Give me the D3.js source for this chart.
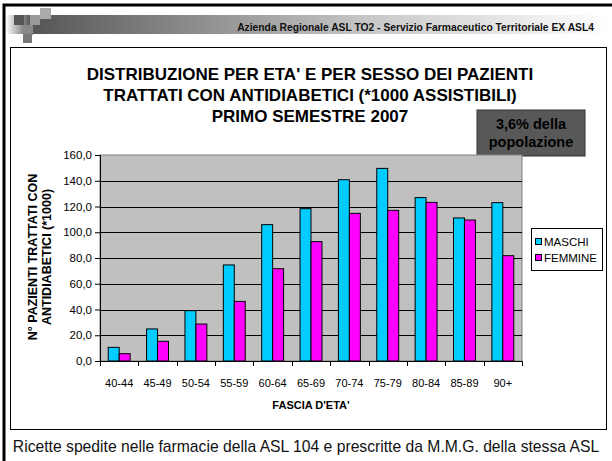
<!DOCTYPE html>
<html>
<head>
<meta charset="utf-8">
<script src="https://cdn.jsdelivr.net/npm/d3@7"></script>
<style>
  body { margin: 0; background: #fff; }
  svg { display: block; font-family: Arial, "Liberation Sans", sans-serif; }
</style>
</head>
<body>
<div id="chart"></div>
<script>
// data
var ageGroups = ["40-44", "45-49", "50-54", "55-59", "60-64", "65-69", "70-74", "75-79", "80-84", "85-89", "90+"];
var maschi = [10.6, 24.9, 39.1, 74.6, 105.9, 118.3, 140.8, 149.6, 126.9, 111.1, 123.0];
var femmine = [5.7, 15.3, 28.7, 46.3, 71.7, 92.7, 114.7, 117.0, 123.2, 109.5, 81.8];
var seriesNames = ["MASCHI", "FEMMINE"];
var seriesColors = ["#00ccff", "#ff00ff"];
var yTicks = [0, 20, 40, 60, 80, 100, 120, 140, 160];

var W = 612, H = 461;
var svg = d3.select("#chart").append("svg")
    .attr("width", W)
    .attr("height", H);

//slide frame
svg.append("rect")
    .attr("x", 4).attr("y", 5)
    .attr("width", 620).attr("height", 470)
    .attr("fill", "none")
    .attr("stroke", "#000")
    .attr("stroke-width", 3);

//header gradient bar
var defs = svg.append("defs");
var grad = defs.append("linearGradient").attr("id", "hdr");
grad.append("stop").attr("offset", "0%").attr("stop-color", "#ffffff");
grad.append("stop").attr("offset", "4%").attr("stop-color", "#555555");
grad.append("stop").attr("offset", "60%").attr("stop-color", "#c8c8c8");
grad.append("stop").attr("offset", "100%").attr("stop-color", "#ffffff");
svg.append("rect")
    .attr("x", 6).attr("y", 15)
    .attr("width", 606).attr("height", 19)
    .attr("fill", "url(#hdr)");

//little squares at the top left
var squares = [[14, 15, 10, "#555"], [30, 15, 10, "#999"], [40, 8, 11, "#aaa"], [23, 25, 10, "#888"], [23, 34, 9, "#777"]];
svg.selectAll(".sq")
    .data(squares)
    .enter()
    .append("rect")
    .attr("x", function(d) { return d[0]; })
    .attr("y", function(d) { return d[1]; })
    .attr("width", function(d) { return d[2]; })
    .attr("height", function(d) { return d[2]; })
    .attr("fill", function(d) { return d[3]; });

svg.append("text")
    .attr("x", 594).attr("y", 31)
    .attr("text-anchor", "end")
    .attr("font-size", 10.3)
    .attr("font-weight", "bold")
    .attr("fill", "#111")
    .text("Azienda Regionale ASL TO2 - Servizio Farmaceutico Territoriale EX ASL4");

//chart box
svg.append("rect")
    .attr("x", 10.5).attr("y", 47.5)
    .attr("width", 596).attr("height", 382)
    .attr("fill", "#fff")
    .attr("stroke", "#000")
    .attr("stroke-width", 1);

//title
var titleLines = ["DISTRIBUZIONE PER ETA' E PER SESSO DEI PAZIENTI",
                  "TRATTATI CON ANTIDIABETICI (*1000 ASSISTIBILI)",
                  "PRIMO SEMESTRE 2007"];
svg.selectAll(".title")
    .data(titleLines)
    .enter()
    .append("text")
    .attr("x", 310)
    .attr("y", function(d, i) { return 80 + i * 21; })
    .attr("text-anchor", "middle")
    .attr("font-size", 17)
    .attr("font-weight", "bold")
    .text(function(d) { return d; });

//"3,6% della popolazione" box
svg.append("rect")
    .attr("x", 477).attr("y", 110)
    .attr("width", 108).attr("height", 46)
    .attr("fill", "#585858")
    .attr("stroke", "#333");
svg.selectAll(".note")
    .data(["3,6% della", "popolazione"])
    .enter()
    .append("text")
    .attr("x", 531)
    .attr("y", function(d, i) { return 129 + i * 18; })
    .attr("text-anchor", "middle")
    .attr("font-size", 14.5)
    .attr("font-weight", "bold")
    .attr("fill", "#000")
    .text(function(d) { return d; });

//plot area
var margin = { top: 155, left: 100 };
var width = 422, height = 206;

var g = svg.append("g")
    .attr("transform", "translate(" + margin.left + "," + margin.top + ")");

var xScale = d3.scaleBand()
    .domain(ageGroups)
    .range([0, width]);

//gap width 150%: two bars + 1.5 bar of space per category
var gap = xScale.bandwidth() * 1.5 / 3.5;
var xSub = d3.scaleBand()
    .domain(seriesNames)
    .range([gap / 2, xScale.bandwidth() - gap / 2]);

var yScale = d3.scaleLinear()
    .domain([0, 160])
    .range([height, 0]);

g.append("rect")
    .attr("width", width)
    .attr("height", height)
    .attr("fill", "#c0c0c0")
    .attr("stroke", "#808080")
    .attr("stroke-width", 1);

//gridlines
g.selectAll(".grid")
    .data(yTicks.slice(1, -1))
    .enter()
    .append("line")
    .attr("x1", 0).attr("x2", width)
    .attr("y1", function(d) { return Math.round(yScale(d)) + 0.5; })
    .attr("y2", function(d) { return Math.round(yScale(d)) + 0.5; })
    .attr("stroke", "#000")
    .attr("stroke-width", 1);

//bars
var barData = [];
ageGroups.forEach(function(a, i) {
    barData.push({ age: a, s: 0, v: maschi[i] });
    barData.push({ age: a, s: 1, v: femmine[i] });
});
g.selectAll(".bar")
    .data(barData)
    .enter()
    .append("rect")
    .attr("x", function(d) { return xScale(d.age) + xSub(seriesNames[d.s]); })
    .attr("y", function(d) { return yScale(d.v); })
    .attr("width", xSub.bandwidth())
    .attr("height", function(d) { return height - yScale(d.v); })
    .attr("fill", function(d) { return seriesColors[d.s]; })
    .attr("stroke", "#000")
    .attr("stroke-width", 1);

//y-axis
var y_axis = d3.axisLeft(yScale)
    .tickValues(yTicks)
    .tickSize(5)
    .tickFormat(function(d) { return d3.format(".1f")(d).replace(".", ","); });
var yg = g.append("g").call(y_axis);
yg.select(".domain").attr("stroke", "#000");
yg.selectAll("line").attr("stroke", "#000");
yg.selectAll("text")
    .attr("font-size", 11.5)
    .attr("font-family", "Arial, 'Liberation Sans', sans-serif")
    .attr("fill", "#000");

//x-axis: ticks between categories
g.append("line")
    .attr("x1", 0).attr("x2", width)
    .attr("y1", height + 0.5).attr("y2", height + 0.5)
    .attr("stroke", "#000");
g.selectAll(".xtick")
    .data(ageGroups.concat(["end"]))
    .enter()
    .append("line")
    .attr("x1", function(d, i) { return Math.round(i * xScale.step()) + 0.5; })
    .attr("x2", function(d, i) { return Math.round(i * xScale.step()) + 0.5; })
    .attr("y1", height)
    .attr("y2", height + 5)
    .attr("stroke", "#000");
g.selectAll(".xlabel")
    .data(ageGroups)
    .enter()
    .append("text")
    .attr("x", function(d) { return xScale(d) + xScale.bandwidth() / 2; })
    .attr("y", height + 26)
    .attr("text-anchor", "middle")
    .attr("font-size", 11)
    .text(function(d) { return d; });

//axis titles
svg.append("text")
    .attr("x", 311)
    .attr("y", 409)
    .attr("text-anchor", "middle")
    .attr("font-size", 11)
    .attr("font-weight", "bold")
    .text("FASCIA D'ETA'");

svg.selectAll(".ytitle")
    .data(["N° PAZIENTI TRATTATI CON", "ANTIDIABETICI (*1000)"])
    .enter()
    .append("text")
    .attr("transform", function(d, i) { return "translate(" + (37 + i * 14) + ",257) rotate(-90)"; })
    .attr("text-anchor", "middle")
    .attr("font-size", 12.5)
    .attr("font-weight", "bold")
    .text(function(d) { return d; });

//legend
var legend = svg.append("g").attr("transform", "translate(531,228)");
legend.append("rect")
    .attr("x", 0.5).attr("y", 0.5)
    .attr("width", 71).attr("height", 42)
    .attr("fill", "#fff")
    .attr("stroke", "#000");
legend.selectAll(".sw")
    .data(seriesNames)
    .enter()
    .append("rect")
    .attr("x", 4.5)
    .attr("y", function(d, i) { return 10.5 + i * 16; })
    .attr("width", 6).attr("height", 6)
    .attr("fill", function(d, i) { return seriesColors[i]; })
    .attr("stroke", "#000");
legend.selectAll(".lt")
    .data(seriesNames)
    .enter()
    .append("text")
    .attr("x", 13)
    .attr("y", function(d, i) { return 17.5 + i * 16; })
    .attr("font-size", 11.5)
    .text(function(d) { return d; });

//footnote
svg.append("text")
    .attr("x", 306)
    .attr("y", 452)
    .attr("text-anchor", "middle")
    .attr("font-size", 15.7)
    .attr("fill", "#111")
    .text("Ricette spedite nelle farmacie della ASL 104 e prescritte da M.M.G. della stessa ASL");
</script>
</body>
</html>
